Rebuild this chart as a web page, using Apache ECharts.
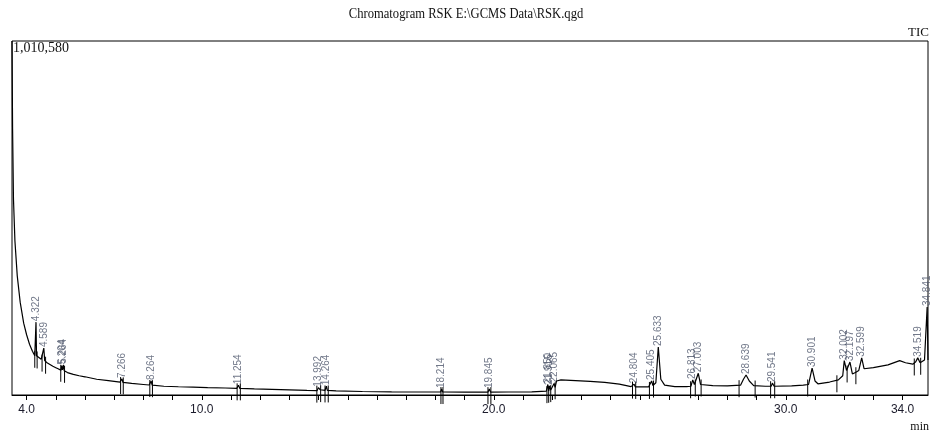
<!DOCTYPE html>
<html>
<head>
<meta charset="utf-8">
<script src="https://cdn.jsdelivr.net/npm/echarts@6/dist/echarts.min.js"></script>
<style>
  html, body { margin: 0; padding: 0; background: #fff; }
  #chart { width: 931px; height: 432px; }
</style>
</head>
<body>
<div id="chart"></div>
<script>
// TIC trace (minutes / counts)
var rt = [
    3.50, 3.52, 3.55, 3.60, 3.68, 3.78, 3.90, 4.00, 4.10, 4.20, 4.28, 4.30, 4.322, 4.34, 4.40, 4.50,
    4.56, 4.589, 4.62, 4.70, 4.80, 4.90, 5.00, 5.10, 5.18, 5.204, 5.23, 5.264, 5.29, 5.40, 5.60, 5.80,
    6.00, 6.40, 6.80, 7.20, 7.266, 7.30, 7.60, 8.00, 8.20, 8.264, 8.30, 8.70, 9.20, 9.70, 10.2, 10.8,
    11.20, 11.254, 11.30, 11.8, 12.4, 13.0, 13.6, 13.95, 13.992, 14.05, 14.22, 14.264, 14.30, 14.6, 15.5, 16.5,
    17.5, 18.18, 18.214, 18.25, 19.0, 19.80, 19.845, 19.89, 20.5, 21.3, 21.8, 21.85, 21.88, 21.915, 21.95, 22.065,
    22.10, 22.15, 22.30, 22.8, 23.3, 23.8, 24.3, 24.70, 24.804, 24.85, 25.30, 25.405, 25.45, 25.55, 25.633, 25.72,
    25.85, 26.2, 26.6, 26.75, 26.813, 26.87, 27.003, 27.08, 27.5, 28.0, 28.45, 28.55, 28.639, 28.75, 28.90, 29.3,
    29.50, 29.541, 29.60, 30.2, 30.6, 30.78, 30.901, 31.0, 31.1, 31.5, 31.8, 31.95, 32.002, 32.08, 32.197, 32.28,
    32.40, 32.50, 32.599, 32.68, 33.0, 33.5, 33.9, 34.1, 34.35, 34.45, 34.519, 34.60, 34.75, 34.841, 34.87
];
var tic = [
    1010580, 760000, 560000, 440000, 340000, 265000, 205000, 172000, 145000, 125000, 112000, 115000, 208000, 112000, 108000, 102000,
    100000, 134000, 98000, 92000, 87000, 82000, 78000, 74000, 71000, 84000, 72000, 86000, 69000, 64000, 59000, 55000,
    52000, 45000, 41000, 37000, 46000, 36000, 33000, 30000, 28500, 40000, 28000, 25000, 23500, 22500, 21000, 20000,
    19000, 28000, 19000, 17500, 16000, 14500, 13000, 12500, 21000, 15000, 13000, 25000, 13000, 11500, 10000, 9000,
    8500, 8500, 17000, 8500, 8000, 8200, 17000, 8200, 8500, 9000, 11000, 30000, 12000, 26000, 14000, 33000,
    22000, 40000, 43000, 41000, 39000, 36000, 31000, 24000, 31000, 23000, 23000, 40000, 27000, 35000, 137000, 45000,
    28000, 24000, 24000, 25000, 43000, 30000, 62000, 30000, 27000, 26000, 28000, 45000, 57000, 40000, 27000, 25000,
    25000, 34000, 25000, 26000, 28000, 30000, 77000, 40000, 32000, 37000, 43000, 55000, 98000, 70000, 94000, 60000,
    65000, 70000, 106000, 75000, 78000, 86000, 98000, 92000, 88000, 95000, 106000, 92000, 100000, 251000, 100000
];

// labelled peaks
var peakRt = [4.322, 4.589, 5.204, 5.264, 7.266, 8.264, 11.254, 13.992, 14.264, 18.214, 19.845,
    21.850, 21.915, 22.065, 24.804, 25.405, 25.633, 26.813, 27.003, 28.639, 29.541, 30.901,
    32.002, 32.197, 32.599, 34.519, 34.841];
var peakTop = [208000, 134000, 84000, 86000, 46000, 40000, 28000, 21000, 25000, 17000, 17000,
    30000, 26000, 33000, 31000, 40000, 137000, 43000, 62000, 57000, 34000, 77000,
    98000, 94000, 106000, 106000, 251000];

// integration start/end marks
var markRt = [4.28, 4.36, 4.53, 4.65, 5.17, 5.30, 7.22, 7.31, 8.22, 8.31, 11.21, 11.32, 13.94, 14.07,
    14.22, 14.33, 18.19, 18.26, 19.80, 19.90, 21.82, 21.88, 21.95, 22.10, 24.75, 24.86, 25.33, 25.47,
    26.74, 26.90, 27.10, 28.40, 28.95, 29.48, 29.62, 30.75, 31.75, 32.10, 32.40, 34.40, 34.62];
var markLvl = [112000, 110000, 101000, 95000, 72000, 69000, 37000, 36000, 28500, 28000, 19000, 19000, 12500, 14000,
    13000, 13000, 8500, 8500, 8200, 8200, 11000, 12000, 14000, 22000, 24000, 23000, 23000, 27000,
    25000, 30000, 30000, 28000, 27000, 25000, 25000, 30000, 42000, 70000, 65000, 90000, 92000];

var tickVals = [4, 5, 6, 7, 8, 9, 10, 11, 12, 13, 14, 15, 16, 17, 18, 19, 20, 21, 22, 23, 24, 25, 26, 27, 28, 29, 30, 31, 32, 33, 34];
var labelVals = [4, 10, 20, 30, 34];

var trace = rt.map(function(t, i) { return [t, tic[i]]; });
var peaks = peakRt.map(function(t, i) { return [t, peakTop[i]]; });
var marks = markRt.map(function(t, i) { return [t, markLvl[i]]; });

var myChart = echarts.init(document.getElementById('chart'));
var option = {
    animation: false,
    grid: {
        left: 12,
        right: 3,
        top: 41,
        bottom: 37,
        show: true,
        borderColor: '#000',
        borderWidth: 1
    },
    graphic: [{
        type: 'text',
        x: 466,
        y: 14,
        scaleX: 0.9,
        originX: 0,
        originY: 0,
        style: {
            text: 'Chromatogram RSK E:\\GCMS Data\\RSK.qgd',
            font: '14px "Liberation Serif"',
            fill: '#111',
            align: 'center',
            verticalAlign: 'middle'
        }
    }, {
        type: 'text',
        right: 2,
        top: 26,
        style: { text: 'TIC', font: '13px "Liberation Serif"', fill: '#111' }
    }, {
        type: 'text',
        left: 13,
        top: 41,
        style: { text: '1,010,580', font: '14px "Liberation Serif"', fill: '#111' }
    }, {
        type: 'text',
        right: 2,
        top: 421,
        style: { text: 'min', font: '12px "Liberation Serif"', fill: '#111' }
    }],
    xAxis: {
        type: 'value',
        min: 3.5,
        max: 34.87,
        axisLine: { show: true, lineStyle: { color: '#000', width: 1 } },
        axisTick: { show: true, length: 5, customValues: tickVals, lineStyle: { color: '#000' } },
        axisLabel: {
            customValues: labelVals,
            margin: 9,
            color: '#1b1b2b',
            fontFamily: 'Liberation Sans',
            fontSize: 12,
            formatter: function(v) { return v.toFixed(1); }
        },
        splitLine: { show: false }
    },
    yAxis: {
        type: 'value',
        min: 0,
        max: 1010580,
        show: false,
        splitLine: { show: false }
    },
    series: [{
        name: 'TIC',
        type: 'line',
        data: trace,
        symbol: 'none',
        lineStyle: { color: '#000', width: 1.2 }
    }, {
        name: 'marks',
        type: 'custom',
        clip: false,
        data: marks,
        renderItem: function(params, api) {
            var p = api.coord([api.value(0), api.value(1)]);
            return {
                type: 'line',
                shape: { x1: p[0], y1: p[1] - 5, x2: p[0], y2: p[1] + 12 },
                style: { stroke: '#000', lineWidth: 1 }
            };
        }
    }, {
        name: 'peaks',
        type: 'scatter',
        data: peaks,
        symbolSize: 0,
        label: {
            show: true,
            position: 'top',
            distance: 1,
            rotate: 90,
            align: 'left',
            verticalAlign: 'middle',
            color: '#4d566b',
            fontFamily: 'Liberation Sans',
            fontSize: 10,
            formatter: function(p) { return p.value[0].toFixed(3); }
        }
    }]
};
myChart.setOption(option);
</script>
</body>
</html>
